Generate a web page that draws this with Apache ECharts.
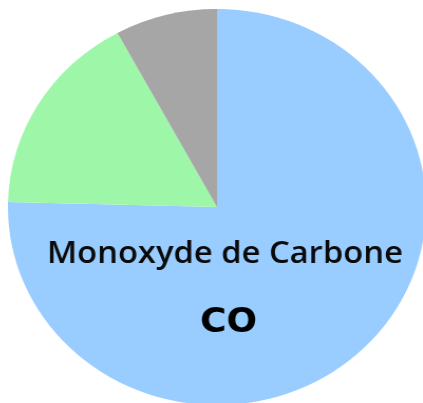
<!DOCTYPE html>
<html>
<head>
<meta charset="utf-8">
<script src="https://cdn.jsdelivr.net/npm/echarts@6/dist/echarts.min.js"></script>
<style>
  html, body { margin: 0; padding: 0; background: #ffffff; overflow: hidden; }
  #chart { width: 423px; height: 403px; transform: scaleX(1.056); transform-origin: 217px 207px; }
</style>
</head>
<body>
<div id="chart"></div>
<script>
// Data
var categories = ['Monoxyde de Carbone', 'Autres gaz A', 'Autres gaz B'];
var values = [75.4, 16.7, 7.9];
var colors = ['#99CCFF', '#9EF7A8', '#A6A6A6'];
var mainLabel = 'Monoxyde de Carbone';
var formulaLabel = 'CO';

var chart = echarts.init(document.getElementById('chart'), null, { renderer: 'canvas' });
var pieData = categories.map(function (c, i) {
  return { name: c, value: values[i], itemStyle: { color: colors[i] } };
});
chart.setOption({
  animation: false,
  backgroundColor: '#ffffff',
  series: [{
    type: 'pie',
    center: [217, 207],
    radius: 198,
    startAngle: 90,
    clockwise: true,
    label: { show: false },
    labelLine: { show: false },
    emphasis: { disabled: true },
    itemStyle: { borderWidth: 0 },
    data: pieData
  }],
  graphic: [
    {
      type: 'text',
      z: 100,
      x: 224.5,
      y: 254,
      style: {
        text: mainLabel,
        font: '600 31px "Open Sans"',
        fill: '#0a0a0a',
        align: 'center',
        verticalAlign: 'middle'
      }
    },
    {
      type: 'text',
      z: 100,
      x: 228,
      y: 323,
      style: {
        text: formulaLabel,
        font: 'bold 34px "DejaVu Sans"',
        fill: '#000000',
        align: 'center',
        verticalAlign: 'middle'
      }
    }
  ]
});
</script>
</body>
</html>
